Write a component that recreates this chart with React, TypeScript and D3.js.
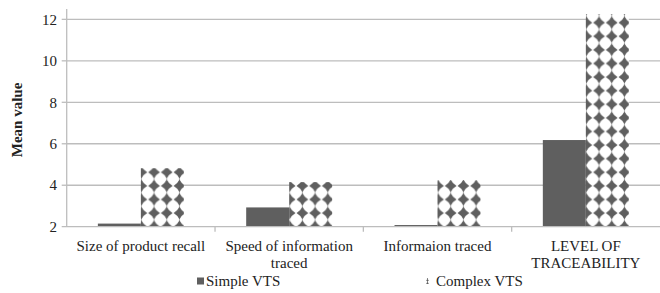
import React, { useEffect, useRef } from "react";
import * as d3 from "d3";

const categories = [
  ["Size of product recall"],
  ["Speed of information", "traced"],
  ["Informaion traced"],
  ["LEVEL OF", "TRACEABILITY"],
];
const simpleVts = [2.15, 2.93, 2.08, 6.18];
const complexVts = [4.82, 4.15, 4.25, 12.25];
const yTicks = [2, 4, 6, 8, 10, 12];
const seriesNames = ["Simple VTS", "Complex VTS"];

const App: React.FC = () => {
  const svgRef = useRef(null);

  useEffect(() => {
    if (!svgRef.current) return;
    const svg = d3.select(svgRef.current);
    svg.selectAll("*").remove();

    const width = 660;
    const height = 293;
    const left = 66.7;
    const right = 660;
    const top = 9;
    const bottom = 226.7;
    const barColor = "#5f5f5f";
    const gridColor = "#bdbdbd";
    const font = "Liberation Serif";

    svg.attr("width", width).attr("height", height);

    const x = d3
      .scaleBand<number>()
      .domain(d3.range(categories.length))
      .range([left, right])
      .paddingInner(0)
      .paddingOuter(0);
    const y = d3.scaleLinear().domain([2, 12.5]).range([bottom, top]);

    const bw = x.bandwidth();
    const barW = 43;
    const gap = (bw - barW * 2) / 2;

    // diamond pattern, one per bar so the columns line up with each bar's left edge
    const defs = svg.append("defs");
    const pw = 12.7;
    const ph = 13.6;
    const star = (cx: number, cy: number, rx: number, ry: number) => {
      const k = 0.34;
      return `M${cx},${cy - ry} Q${cx + rx * k},${cy - ry * k} ${cx + rx},${cy} Q${cx + rx * k},${cy + ry * k} ${cx},${cy + ry} Q${cx - rx * k},${cy + ry * k} ${cx - rx},${cy} Q${cx - rx * k},${cy - ry * k} ${cx},${cy - ry}Z`;
    };
    const addPattern = (id: string, ox: number, oy: number, sx: number, sy: number) => {
      const p = defs
        .append("pattern")
        .attr("id", id)
        .attr("patternUnits", "userSpaceOnUse")
        .attr("x", ox)
        .attr("y", oy)
        .attr("width", sx)
        .attr("height", sy);
      p.append("rect").attr("width", sx).attr("height", sy).attr("fill", "#fff");
      p.append("path")
        .attr("d", star(sx / 2, sy / 2, sx * 0.46, sy * 0.46))
        .attr("fill", barColor);
      p.append("circle").attr("cx", sx / 2).attr("cy", 0).attr("r", 0.6).attr("fill", barColor);
      p.append("circle").attr("cx", sx / 2).attr("cy", sy).attr("r", 0.6).attr("fill", barColor);
    };

    // gridlines
    svg
      .append("g")
      .selectAll("line")
      .data(yTicks.slice(1))
      .join("line")
      .attr("x1", left)
      .attr("x2", right)
      .attr("y1", (d) => y(d))
      .attr("y2", (d) => y(d))
      .attr("stroke", gridColor)
      .attr("stroke-width", 1.3);

    // bars
    categories.forEach((_, i) => {
      const x0 = (x(i) as number) + gap;
      svg
        .append("rect")
        .attr("x", x0)
        .attr("y", y(simpleVts[i]))
        .attr("width", barW)
        .attr("height", bottom - y(simpleVts[i]))
        .attr("fill", barColor);

      const x1 = x0 + barW;
      addPattern(`dia${i}`, x1 - pw / 2 + 0.5, bottom - ph / 2, pw, ph);
      svg
        .append("rect")
        .attr("x", x1)
        .attr("y", y(complexVts[i]))
        .attr("width", barW)
        .attr("height", bottom - y(complexVts[i]))
        .attr("fill", `url(#dia${i})`);
    });

    // axes
    svg
      .append("line")
      .attr("x1", left)
      .attr("x2", left)
      .attr("y1", top)
      .attr("y2", bottom)
      .attr("stroke", gridColor)
      .attr("stroke-width", 1.3);
    svg
      .append("line")
      .attr("x1", left - 5)
      .attr("x2", right)
      .attr("y1", bottom)
      .attr("y2", bottom)
      .attr("stroke", gridColor)
      .attr("stroke-width", 1.3);

    svg
      .append("g")
      .selectAll("line")
      .data(d3.range(1, categories.length))
      .join("line")
      .attr("x1", (d) => x(d) as number)
      .attr("x2", (d) => x(d) as number)
      .attr("y1", bottom)
      .attr("y2", bottom + 5)
      .attr("stroke", gridColor)
      .attr("stroke-width", 1.3);

    svg
      .append("g")
      .selectAll("line")
      .data(yTicks.slice(1))
      .join("line")
      .attr("x1", left - 5)
      .attr("x2", left)
      .attr("y1", (d) => y(d))
      .attr("y2", (d) => y(d))
      .attr("stroke", gridColor)
      .attr("stroke-width", 1.3);

    // y tick labels
    svg
      .append("g")
      .selectAll("text")
      .data(yTicks)
      .join("text")
      .attr("x", 57)
      .attr("y", (d) => y(d))
      .attr("dy", "0.35em")
      .attr("text-anchor", "end")
      .attr("font-family", font)
      .attr("font-size", 15)
      .attr("fill", "#222")
      .text((d) => d);

    svg
      .append("text")
      .attr("transform", `translate(17,120) rotate(-90)`)
      .attr("text-anchor", "middle")
      .attr("dy", "0.35em")
      .attr("font-family", font)
      .attr("font-size", 15)
      .attr("font-weight", "bold")
      .attr("fill", "#222")
      .text("Mean value");

    // category labels
    categories.forEach((lines, i) => {
      const cx = (x(i) as number) + bw / 2;
      lines.forEach((line, j) => {
        svg
          .append("text")
          .attr("x", cx)
          .attr("y", 246 + j * 17)
          .attr("dy", "0.35em")
          .attr("text-anchor", "middle")
          .attr("font-family", font)
          .attr("font-size", 15)
          .attr("fill", "#222")
          .text(line);
      });
    });

    // legend
    const ly = 281;
    svg
      .append("rect")
      .attr("x", 197)
      .attr("y", ly - 3.5)
      .attr("width", 7)
      .attr("height", 7)
      .attr("fill", barColor);
    svg
      .append("text")
      .attr("x", 206)
      .attr("y", ly)
      .attr("dy", "0.35em")
      .attr("font-family", font)
      .attr("font-size", 15)
      .attr("fill", "#222")
      .text(seriesNames[0]);

    addPattern("diaLegend", 426, ly - 5, 3, 3);
    svg
      .append("rect")
      .attr("x", 426)
      .attr("y", ly - 3)
      .attr("width", 3)
      .attr("height", 6)
      .attr("fill", "url(#diaLegend)");
    svg
      .append("text")
      .attr("x", 436)
      .attr("y", ly)
      .attr("dy", "0.35em")
      .attr("font-family", font)
      .attr("font-size", 15)
      .attr("fill", "#222")
      .text(seriesNames[1]);
  }, []);

  return (
    <svg
      ref={svgRef}
      style={{ position: "absolute", left: 0, top: 0, background: "#fff" }}
    />
  );
};

export default App;
